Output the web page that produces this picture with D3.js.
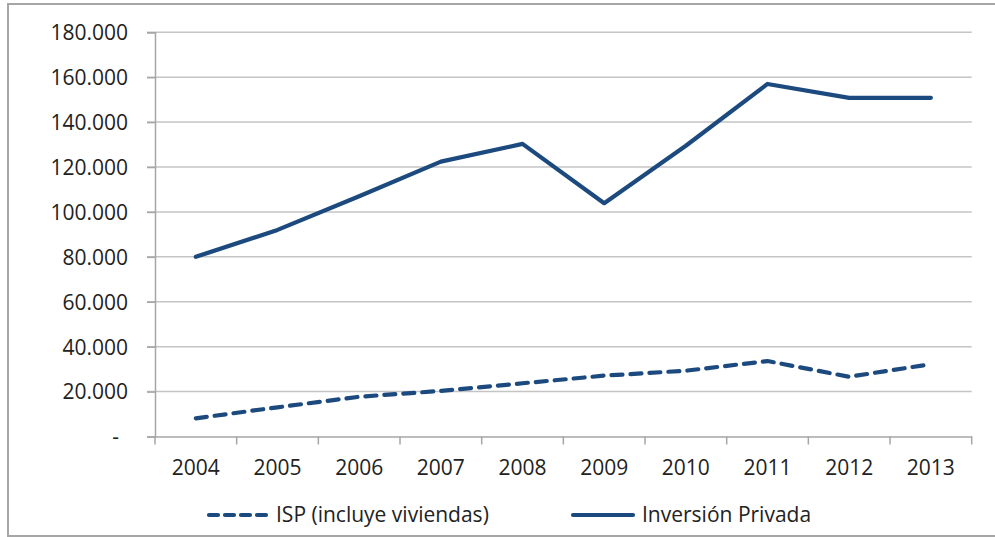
<!DOCTYPE html>
<html>
<head>
<meta charset="utf-8">
<script src="https://cdn.jsdelivr.net/npm/d3@7"></script>
<style>
  html, body { margin: 0; padding: 0; background: #fff; }
  svg { display: block; }
</style>
</head>
<body>
<svg id="chart" width="995" height="537"></svg>
<script>
const years = ["2004","2005","2006","2007","2008","2009","2010","2011","2012","2013"];
const isp = [8100, 13000, 17700, 20300, 23700, 27100, 29300, 33600, 26600, 32200];
const inversionPrivada = [80000, 92000, 107000, 122400, 130300, 103900, 129500, 157000, 150800, 150800];
const yTicks = [0, 20000, 40000, 60000, 80000, 100000, 120000, 140000, 160000, 180000];
const seriesNames = ["ISP (incluye viviendas)", "Inversión Privada"];

(function () {
const svg = d3.select("#chart");
const color = "#1c4a7e";
const font = "'Open Sans', sans-serif";
const fs = 21;
const txt = "#222";
const pLeft = 155, pRight = 971.7, pTop = 32.3, pBottom = 436.5;

// outer frame
svg.append("rect").attr("x", 8).attr("y", 4).attr("width", 1000).attr("height", 532)
  .attr("fill", "#fff").attr("stroke", "#a6a6a6").attr("stroke-width", 2);

const x = d3.scaleBand().domain(years).range([pLeft, pRight]);
const y = d3.scaleLinear().domain([0, 180000]).range([pBottom, pTop]);

// gridlines
svg.append("g").selectAll("line").data(yTicks.filter(d => d > 0)).join("line")
  .attr("x1", pLeft - 8).attr("x2", pRight)
  .attr("y1", d => y(d)).attr("y2", d => y(d))
  .attr("stroke", "#c4c4c4").attr("stroke-width", 1.5);

// y axis
const fmt = d => d === 0 ? "-" : d3.format(",")(d).replace(/,/g, ".");
const yAxis = svg.append("g").attr("transform", `translate(${pLeft},0)`)
  .call(d3.axisLeft(y).tickValues(yTicks).tickSize(8).tickPadding(0).tickFormat(fmt));
yAxis.select(".domain").attr("stroke", "#a6a6a6").attr("stroke-width", 1.5);
yAxis.selectAll(".tick line").attr("stroke", "#a6a6a6").attr("stroke-width", 1.5);
yAxis.selectAll(".tick text")
  .attr("x", d => d === 0 ? -36 : -27)
  .attr("dy", "0.35em")
  .attr("font-family", font).attr("font-size", fs).attr("fill", txt);

// x axis
const xAxis = svg.append("g").attr("transform", `translate(0,${pBottom})`)
  .call(d3.axisBottom(x).tickSize(0).tickPadding(32).tickSizeOuter(0));
xAxis.select(".domain").attr("stroke", "#a6a6a6").attr("stroke-width", 1.5);
xAxis.selectAll(".tick text").attr("font-family", font).attr("font-size", fs).attr("fill", txt)
  .attr("dy", "0.32em").attr("y", 32);
// category boundary ticks
const bounds = years.map(d => x(d)).concat([x(years[years.length - 1]) + x.bandwidth()]);
svg.append("g").selectAll("line").data(bounds).join("line")
  .attr("x1", d => d).attr("x2", d => d).attr("y1", pBottom).attr("y2", pBottom + 8)
  .attr("stroke", "#a6a6a6").attr("stroke-width", 1.5);

const cx = d => x(d) + x.bandwidth() / 2;
const line = d3.line().x((d, i) => cx(years[i])).y(d => y(d));

svg.append("path").datum(isp).attr("d", line)
  .attr("fill", "none").attr("stroke", color).attr("stroke-width", 4.2)
  .attr("stroke-dasharray", "11,8").attr("stroke-linecap", "round").attr("stroke-linejoin", "round");

svg.append("path").datum(inversionPrivada).attr("d", line)
  .attr("fill", "none").attr("stroke", color).attr("stroke-width", 4.2)
  .attr("stroke-linecap", "round").attr("stroke-linejoin", "round");

// legend
const ly = 515;
const lg = svg.append("g");
lg.append("line").attr("x1", 209).attr("x2", 266).attr("y1", ly).attr("y2", ly)
  .attr("stroke", color).attr("stroke-width", 4.2).attr("stroke-dasharray", "9,7").attr("stroke-linecap", "round");
lg.append("text").attr("x", 276).attr("y", ly).attr("dy", "0.35em")
  .attr("font-family", font).attr("font-size", fs).attr("fill", txt).text(seriesNames[0]);
lg.append("line").attr("x1", 573).attr("x2", 633).attr("y1", ly).attr("y2", ly)
  .attr("stroke", color).attr("stroke-width", 4.2).attr("stroke-linecap", "round");
lg.append("text").attr("x", 642).attr("y", ly).attr("dy", "0.35em")
  .attr("font-family", font).attr("font-size", fs).attr("fill", txt).text(seriesNames[1]);
})();
</script>
</body>
</html>
